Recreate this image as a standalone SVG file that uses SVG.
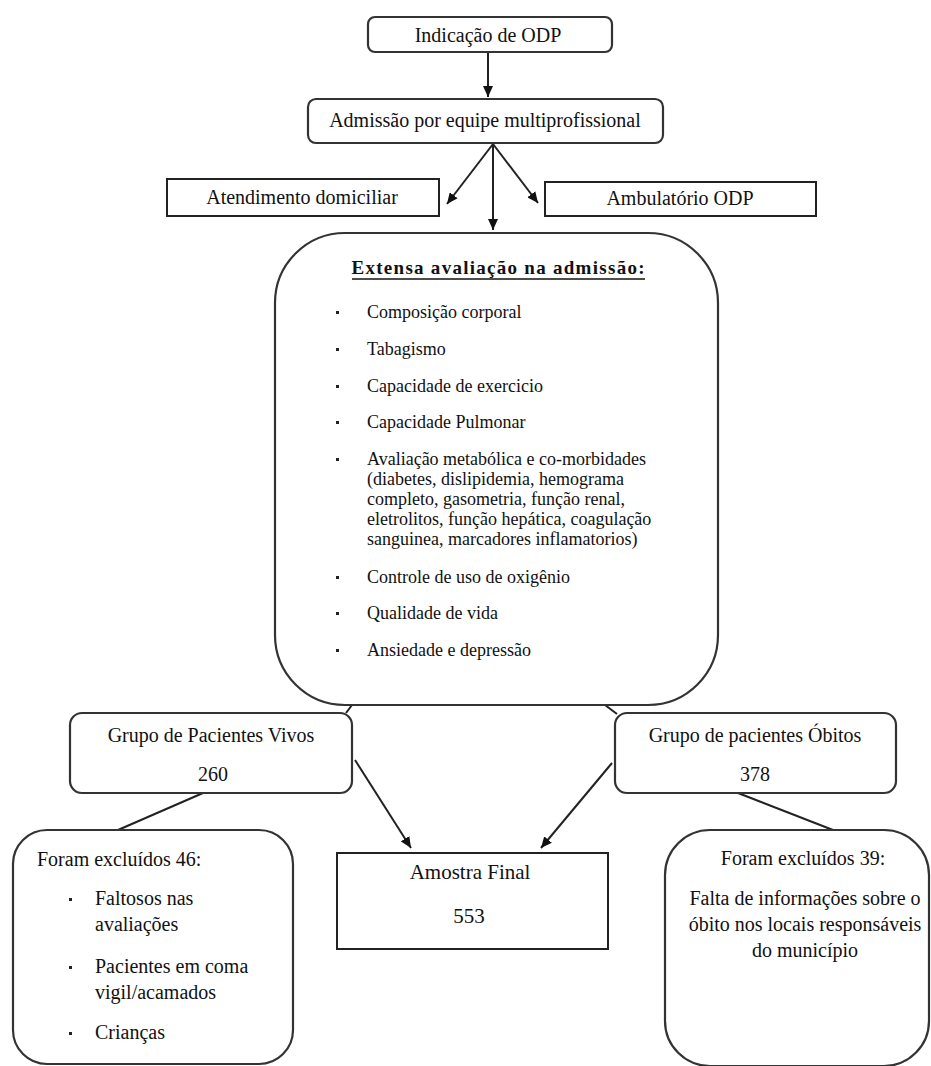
<svg xmlns="http://www.w3.org/2000/svg" width="931" height="1066" viewBox="0 0 931 1066">
<style>
.box{fill:#fff;stroke:#222;stroke-width:2}
.rbox{fill:#fff;stroke:#333;stroke-width:2.2}
.t{font-family:"Liberation Serif","Times New Roman",serif;font-size:20px;fill:#111}
.c{text-anchor:middle}
.s{font-size:18px}
.b{font-weight:bold;font-size:19px}
.big{font-size:21px}
.con{stroke:#222;stroke-width:2;fill:none}
.dot{fill:#222}
</style>
<defs>
<marker id="ah" markerUnits="userSpaceOnUse" markerWidth="12" markerHeight="10" refX="11" refY="5" orient="auto">
<path d="M0,0 L11,5 L0,10 z" fill="#111"/>
</marker>
</defs>
<g id="connectors">
<line class="con" x1="488" y1="52" x2="488" y2="97" marker-end="url(#ah)"/>
<line class="con" x1="493" y1="144" x2="447" y2="204" marker-end="url(#ah)"/>
<line class="con" x1="493" y1="144" x2="493" y2="230" marker-end="url(#ah)"/>
<line class="con" x1="493" y1="144" x2="538" y2="203" marker-end="url(#ah)"/>
<line class="con" x1="352" y1="705" x2="346" y2="713"/>
<line class="con" x1="605" y1="705" x2="617" y2="714"/>
<line class="con" x1="355" y1="760" x2="411" y2="848" marker-end="url(#ah)"/>
<line class="con" x1="612" y1="763" x2="541" y2="848" marker-end="url(#ah)"/>
<line class="con" x1="203" y1="793" x2="118" y2="830"/>
<line class="con" x1="738" y1="793" x2="833" y2="830"/>
</g>
<g id="n-indicacao">
<rect class="rbox" x="368" y="17" width="244" height="35" rx="7"/>
<text class="t c" x="488" y="42">Indicação de ODP</text>
</g>
<g id="n-admissao">
<rect class="rbox" x="308" y="99" width="355" height="44" rx="8"/>
<text class="t c" x="485" y="127">Admissão por equipe multiprofissional</text>
</g>
<g id="n-domiciliar">
<rect class="box" x="167" y="179" width="272" height="37"/>
<text class="t c" x="302" y="204">Atendimento domiciliar</text>
</g>
<g id="n-ambulatorio">
<rect class="box" x="545" y="182" width="271" height="34"/>
<text class="t c" x="680" y="205">Ambulatório ODP</text>
</g>
<g id="n-avaliacao">
<rect class="rbox" x="275" y="233" width="443" height="472" rx="70"/>
<text class="t b c" x="498" y="274" textLength="293" lengthAdjust="spacing">Extensa avaliação na admissão:</text>
<line x1="352" y1="279" x2="645" y2="279" stroke="#111" stroke-width="1.5"/>
<rect class="dot" x="336" y="311" width="3" height="3"/>
<text class="t s" x="367" y="318">Composição corporal</text>
<rect class="dot" x="336" y="348" width="3" height="3"/>
<text class="t s" x="367" y="355">Tabagismo</text>
<rect class="dot" x="336" y="385" width="3" height="3"/>
<text class="t s" x="367" y="392">Capacidade de exercicio</text>
<rect class="dot" x="336" y="421" width="3" height="3"/>
<text class="t s" x="367" y="428">Capacidade Pulmonar</text>
<rect class="dot" x="336" y="458" width="3" height="3"/>
<text class="t s" x="367" y="465">Avaliação metabólica e co-morbidades</text>
<text class="t s" x="367" y="485">(diabetes, dislipidemia, hemograma</text>
<text class="t s" x="367" y="505">completo, gasometria, função renal,</text>
<text class="t s" x="367" y="525">eletrolitos, função hepática, coagulação</text>
<text class="t s" x="367" y="545">sanguinea, marcadores inflamatorios)</text>
<rect class="dot" x="336" y="576" width="3" height="3"/>
<text class="t s" x="367" y="583">Controle de uso de oxigênio</text>
<rect class="dot" x="336" y="612" width="3" height="3"/>
<text class="t s" x="367" y="619">Qualidade de vida</text>
<rect class="dot" x="336" y="649" width="3" height="3"/>
<text class="t s" x="367" y="656">Ansiedade e depressão</text>
</g>
<g id="n-vivos">
<rect class="rbox" x="70" y="713" width="282" height="80" rx="12"/>
<text class="t c" x="211" y="742">Grupo de Pacientes Vivos</text>
<text class="t c" x="213" y="781">260</text>
</g>
<g id="n-obitos">
<rect class="rbox" x="615" y="713" width="281" height="80" rx="12"/>
<text class="t c" x="755" y="742">Grupo de pacientes Óbitos</text>
<text class="t c" x="755" y="781">378</text>
</g>
<g id="n-amostra">
<rect class="box" x="337" y="853" width="271" height="96"/>
<text class="t big c" x="470" y="879">Amostra Final</text>
<text class="t big c" x="469" y="923">553</text>
</g>
<g id="n-excl-vivos">
<rect class="rbox" x="13" y="830" width="280" height="234" rx="34"/>
<text class="t" x="37" y="866">Foram excluídos 46:</text>
<rect class="dot" x="69" y="898" width="3" height="3"/>
<text class="t" x="95" y="905">Faltosos nas</text>
<text class="t" x="95" y="931">avaliações</text>
<rect class="dot" x="69" y="966" width="3" height="3"/>
<text class="t" x="95" y="973">Pacientes em coma</text>
<text class="t" x="95" y="999">vigil/acamados</text>
<rect class="dot" x="69" y="1032" width="3" height="3"/>
<text class="t" x="95" y="1039">Crianças</text>
</g>
<g id="n-excl-obitos">
<rect class="rbox" x="665" y="830" width="264" height="236" rx="45"/>
<text class="t c" x="803" y="865">Foram excluídos 39:</text>
<text class="t c" x="805" y="905">Falta de informações sobre o</text>
<text class="t c" x="805" y="931">óbito nos locais responsáveis</text>
<text class="t c" x="805" y="957">do município</text>
</g>
</svg>
